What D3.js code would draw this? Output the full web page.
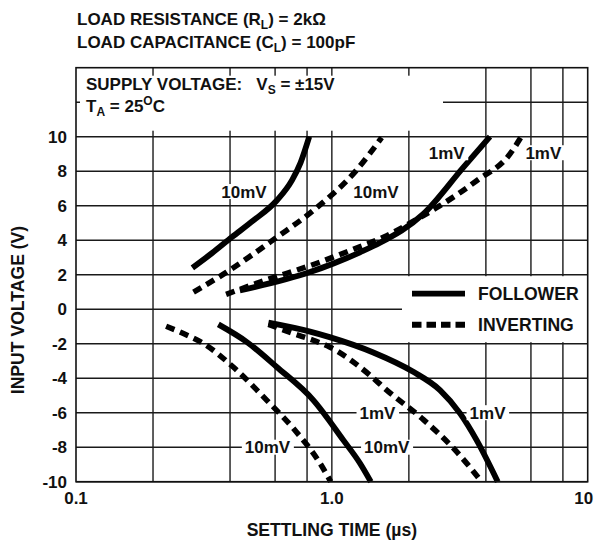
<!DOCTYPE html>
<html><head><meta charset="utf-8">
<script src="https://cdn.jsdelivr.net/npm/d3@7"></script>
<style>
html,body{margin:0;padding:0;background:#fff;}
svg text{font-family:"Liberation Sans",Arial,Helvetica,sans-serif;font-weight:bold;fill:#111;white-space:pre;}
</style></head>
<body><svg id="chart" width="598" height="542"></svg>
<script>
// ---- data ----
const xTickValues = [0.1, 1.0, 10];
const xTickLabels = ["0.1", "1.0", "10"];
const xGridValues = [0.2, 0.4, 0.6, 0.8, 1, 2, 4, 6, 8];
const yTickValues = [-10, -8, -6, -4, -2, 0, 2, 4, 6, 8, 10];
const yExtraGrid = [12];

const followerPos10 = [[0.285,2.4],[0.34,3.25],[0.406,4.17],[0.493,5.14],[0.609,6.3],[0.70,7.5],[0.755,8.5],[0.816,10]];
const invertingPos10 = [[0.288,0.99],[0.388,2.15],[0.609,4.17],[0.846,5.72],[1.25,8.07],[1.566,9.95]];
const followerPos1 = [[0.437,1.09],[0.822,2.15],[1.288,3.3],[1.543,3.85],[2.279,5.52],[3.265,8.22],[4.15,10]];
const invertingPos1 = [[0.386,0.86],[0.524,1.57],[0.899,2.73],[1.178,3.4],[1.589,4.17],[2.279,5.43],[2.646,6.0],[3.68,7.45],[4.97,9.0],[5.5,10]];
const followerNeg10 = [[0.36,-0.88],[0.465,-1.9],[0.609,-3.35],[0.846,-5.27],[1.109,-7.59],[1.288,-8.93],[1.42,-10]];
const invertingNeg10 = [[0.225,-0.99],[0.263,-1.41],[0.315,-1.99],[0.418,-3.44],[0.556,-5.27],[0.707,-6.91],[0.899,-8.93],[0.99,-10]];
const followerNeg1 = [[0.565,-0.78],[0.822,-1.3],[0.98,-1.62],[1.452,-2.51],[2.08,-3.63],[2.646,-4.69],[3.17,-6.04],[3.68,-7.59],[4.45,-10]];
const invertingNeg1 = [[0.565,-0.88],[0.707,-1.41],[0.846,-1.8],[0.98,-2.19],[1.213,-3.06],[1.41,-3.83],[1.638,-4.69],[2.279,-6.4],[3.03,-8.16],[3.85,-10]];

const curveLabels = [
  {text:"10mV", x:0.4536, y:6.82},
  {text:"10mV", x:1.488, y:6.82},
  {text:"1mV", x:2.81, y:9.07},
  {text:"1mV", x:6.71, y:9.07},
  {text:"1mV", x:1.508, y:-6},
  {text:"1mV", x:4.06, y:-6},
  {text:"10mV", x:0.5605, y:-8},
  {text:"10mV", x:1.639, y:-8}
];
const legendItems = [{name:"FOLLOWER", type:"solid"},{name:"INVERTING", type:"dash"}];

// ---- drawing ----
const svg = d3.select("#chart");
const L = 76, R = 587.7, T = 67.7, B = 481.7;
const x = d3.scaleLog().domain([0.1, 10]).range([L, R]);
const y = d3.scaleLinear().domain([-10, 14]).range([B, T]);
const FS = 17;
const FS2 = 17.6;
const gridColor = "#1a1a1a";

// grid
svg.append("g").selectAll("line").data(xGridValues).join("line")
  .attr("x1", d=>x(d)).attr("x2", d=>x(d)).attr("y1", y(-10)).attr("y2", y(14))
  .attr("stroke", gridColor).attr("stroke-width", 1.4);
svg.append("g").selectAll("line").data(yTickValues.concat(yExtraGrid)).join("line")
  .attr("x1", L).attr("x2", R).attr("y1", d=>y(d)).attr("y2", d=>y(d))
  .attr("stroke", gridColor).attr("stroke-width", 1.4);

// top annotation box (white) leaving tick stubs
svg.append("rect").attr("x", L+4).attr("y", T+8).attr("width", 443-(L+4)).attr("height", y(10)-6-(T+8)).attr("fill","#fff");
// legend box
svg.append("rect").attr("x", 402).attr("y", y(2)+1.5).attr("width", R-402).attr("height", y(-2)-1.5-(y(2)+1.5)).attr("fill","#fff");

// curves
const line = d3.line().x(d=>x(d[0])).y(d=>y(d[1])).curve(d3.curveMonotoneX);
const solids = [followerPos10, followerPos1, followerNeg10, followerNeg1];
const dashes = [invertingPos10, invertingPos1, invertingNeg10, invertingNeg1];
svg.append("g").selectAll("path").data(dashes).join("path")
  .attr("d", line).attr("fill","none").attr("stroke","#000").attr("stroke-width",5.5)
  .attr("stroke-dasharray","9,6");
svg.append("g").selectAll("path").data(solids).join("path")
  .attr("d", line).attr("fill","none").attr("stroke","#000").attr("stroke-width",5.8);

// curve labels
const lg = svg.append("g");
curveLabels.forEach(l=>{
  const t = lg.append("text").attr("x", x(l.x)).attr("y", y(l.y)+6).attr("text-anchor","middle")
    .style("font-size", FS+"px").text(l.text);
  const bb = t.node().getBBox();
  lg.insert("rect", "text").attr("x", bb.x-3).attr("y", y(l.y)-7.5).attr("width", bb.width+6).attr("height", 15).attr("fill","#fff");
});

// legend
const legY = [y(0.9), y(-0.9)];
legendItems.forEach((it,i)=>{
  svg.append("line").attr("x1",412).attr("x2",465).attr("y1",legY[i]).attr("y2",legY[i])
    .attr("stroke","#000").attr("stroke-width",5.8).attr("stroke-dasharray", it.type==="dash" ? "9.5,5" : null);
  svg.append("text").attr("x",478).attr("y",legY[i]+6.3).style("font-size",FS2+"px").text(it.name);
});

// frame
svg.append("rect").attr("x",L).attr("y",T).attr("width",R-L).attr("height",B-T)
  .attr("fill","none").attr("stroke","#111").attr("stroke-width",1.6);

// y tick labels
svg.append("g").selectAll("text").data(yTickValues).join("text")
  .attr("x", L-9).attr("y", d=>y(d)+6).attr("text-anchor","end").style("font-size",FS+"px").text(d=>d);
// x tick labels
svg.append("g").selectAll("text").data(xTickValues).join("text")
  .attr("x", (d,i)=> i===2 ? x(d)-4 : x(d)).attr("y", 504).attr("text-anchor","middle")
  .style("font-size",FS+"px").text((d,i)=>xTickLabels[i]);

// axis titles
svg.append("text").attr("x", x(1)).attr("y", 536).attr("text-anchor","middle").style("font-size",FS2+"px")
  .text("SETTLING TIME (\u00b5s)");
svg.append("text").attr("transform","translate(24,310) rotate(-90)").attr("text-anchor","middle").style("font-size",FS2+"px")
  .text("INPUT VOLTAGE (V)");

// header titles
function richText(xp, yp, parts){
  const t = svg.append("text").attr("x",xp).attr("y",yp).style("font-size",FS+"px");
  parts.forEach(p=>{
    const s = t.append("tspan").text(p.t);
    if(p.sub){ s.style("font-size","12px").attr("dy",4); }
    else if(p.sup){ s.style("font-size","12px").attr("dy",-7); }
    if(p.back) s.attr("dy", p.back);
  });
  return t;
}
richText(77, 25, [{t:"LOAD RESISTANCE (R"},{t:"L",sub:true},{t:") = 2k\u03a9",back:-4}]);
richText(77, 48, [{t:"LOAD CAPACITANCE (C"},{t:"L",sub:true},{t:") = 100pF",back:-4}]);
richText(86, 89.5, [{t:"SUPPLY VOLTAGE:   V"},{t:"S",sub:true},{t:" = \u00b115V",back:-4}]);
richText(86, 112, [{t:"T"},{t:"A",sub:true},{t:" = 25",back:-4},{t:"O",sup:true},{t:"C",back:7}]);
</script></body></html>
